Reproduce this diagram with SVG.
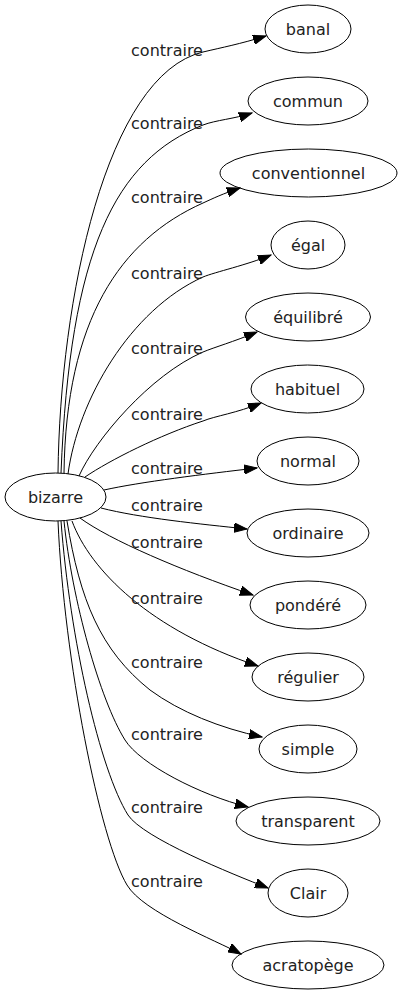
<svg xmlns="http://www.w3.org/2000/svg" width="401" height="995" viewBox="0 0 401 995">
<style>
.node ellipse{fill:none;stroke:#000;stroke-width:1}
.node text{font-family:"DejaVu Sans",sans-serif;font-size:16px;fill:#222;text-anchor:middle}
.edges path{fill:none;stroke:#000;stroke-width:1;marker-end:url(#arr)}
.edges text{font-family:"DejaVu Sans",sans-serif;font-size:16px;fill:#222;text-anchor:middle}
</style>
<defs>
<marker id="arr" markerUnits="userSpaceOnUse" markerWidth="14" markerHeight="10" refX="13" refY="5" orient="auto">
<path d="M0,0.3 L13,5 L0,9.7 z" fill="#000" stroke="#000" stroke-width="1"/>
</marker>
</defs>
<rect width="401" height="995" fill="#fff"/>
<g id="edges" class="edges">
<path d="M58,473 C60,300 106,75 203,52 C222,47.5 240,44 266,36"/>
<text x="167" y="56">contraire</text>
<path d="M61,473 C70,250 115,160 203,125 C216,120 234,119 252,113"/>
<text x="167" y="129">contraire</text>
<path d="M64,473 C66,320 120,240 203,203 C214,198 222,194 240,188"/>
<text x="167" y="203">contraire</text>
<path d="M68,474 C78,400 130,310 203,277 C215,272 247,265 271,255"/>
<text x="167" y="279">contraire</text>
<path d="M79,476 C95,440 150,375 203,352 C215,347 233,342 257,332"/>
<text x="167" y="354">contraire</text>
<path d="M85,477 C110,460 160,435 203,421 C215,416 237,413 261,403"/>
<text x="167" y="420">contraire</text>
<path d="M104,490 C140,482 205,474 257,468"/>
<text x="167" y="474">contraire</text>
<path d="M101,508 C140,518 200,524 247,529"/>
<text x="167" y="511">contraire</text>
<path d="M80,518 C110,540 180,570 253,595"/>
<text x="167" y="548">contraire</text>
<path d="M72,521 C90,570 150,630 258,666"/>
<text x="167" y="604">contraire</text>
<path d="M67,521 C80,600 100,650 150,690 C180,712 220,728 262,737"/>
<text x="167" y="668">contraire</text>
<path d="M64,521 C72,600 100,700 125,740 C140,764 200,795 248,807"/>
<text x="167" y="740">contraire</text>
<path d="M61,521 C70,640 100,770 128,815 C143,838 232,874 268,888"/>
<text x="167" y="813">contraire</text>
<path d="M58,521 C64,660 100,840 127,885 C143,912 215,940 241,954"/>
<text x="167" y="887">contraire</text>
</g>
<g id="bizarre" class="node"><ellipse cx="55.5" cy="497" rx="50.5" ry="24"/><text x="55.5" y="502.5">bizarre</text></g>
<g id="banal" class="node"><ellipse cx="308" cy="29" rx="43" ry="24"/><text x="308" y="34.5">banal</text></g>
<g id="commun" class="node"><ellipse cx="308" cy="101" rx="60" ry="24"/><text x="308" y="106.5">commun</text></g>
<g id="conventionnel" class="node"><ellipse cx="308.5" cy="173" rx="88.5" ry="24"/><text x="308.5" y="178.5">conventionnel</text></g>
<g id="egal" class="node"><ellipse cx="308" cy="245" rx="37" ry="24"/><text x="308" y="250.5">égal</text></g>
<g id="equilibre" class="node"><ellipse cx="308" cy="317" rx="62.5" ry="24"/><text x="308" y="322.5">équilibré</text></g>
<g id="habituel" class="node"><ellipse cx="307.5" cy="389" rx="56.5" ry="24"/><text x="307.5" y="394.5">habituel</text></g>
<g id="normal" class="node"><ellipse cx="308" cy="461" rx="51" ry="24"/><text x="308" y="466.5">normal</text></g>
<g id="ordinaire" class="node"><ellipse cx="308" cy="533" rx="61" ry="24"/><text x="308" y="538.5">ordinaire</text></g>
<g id="pondere" class="node"><ellipse cx="308" cy="605" rx="58" ry="24"/><text x="308" y="610.5">pondéré</text></g>
<g id="regulier" class="node"><ellipse cx="308" cy="677" rx="56" ry="24"/><text x="308" y="682.5">régulier</text></g>
<g id="simple" class="node"><ellipse cx="308" cy="749" rx="49" ry="24"/><text x="308" y="754.5">simple</text></g>
<g id="transparent" class="node"><ellipse cx="308" cy="821" rx="72" ry="24"/><text x="308" y="826.5">transparent</text></g>
<g id="Clair" class="node"><ellipse cx="308" cy="893" rx="40" ry="24"/><text x="308" y="898.5">Clair</text></g>
<g id="acratopege" class="node"><ellipse cx="308" cy="965" rx="76" ry="24"/><text x="308" y="970.5">acratopège</text></g>
</svg>
